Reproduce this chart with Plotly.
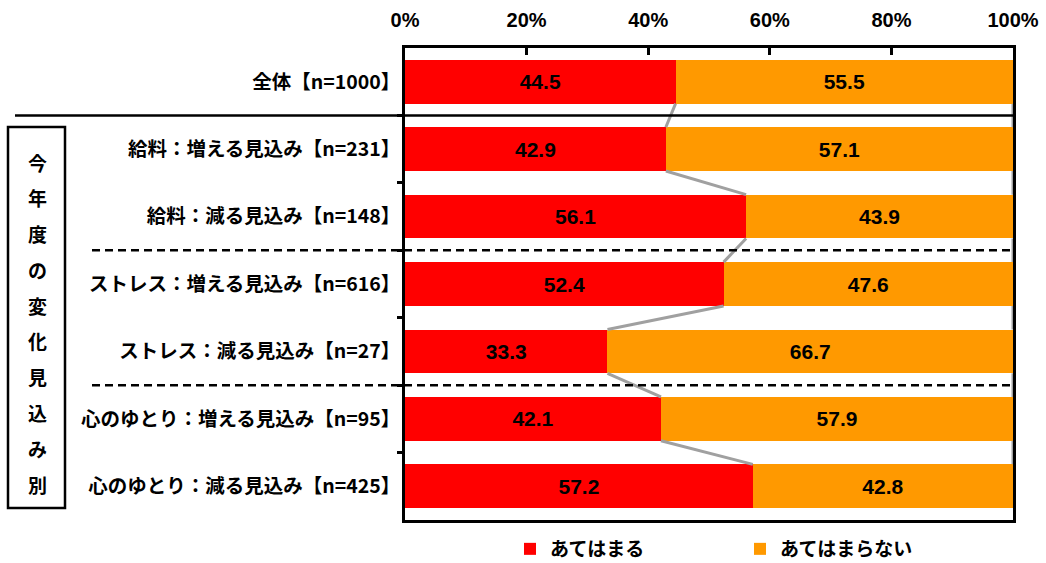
import plotly.graph_objects as go

categories = [
    "全体【n=1000】",
    "給料：増える見込み【n=231】",
    "給料：減る見込み【n=148】",
    "ストレス：増える見込み【n=616】",
    "ストレス：減る見込み【n=27】",
    "心のゆとり：増える見込み【n=95】",
    "心のゆとり：減る見込み【n=425】",
]
applies = [44.5, 42.9, 56.1, 52.4, 33.3, 42.1, 57.2]
not_applies = [55.5, 57.1, 43.9, 47.6, 66.7, 57.9, 42.8]
series_names = ["あてはまる", "あてはまらない"]
x_ticks = [0, 20, 40, 60, 80, 100]
x_tick_labels = ["0%", "20%", "40%", "60%", "80%", "100%"]
side_label = "今年度の変化見込み別"

RED = "#FF0000"
ORANGE = "#FF9900"
GRAY = "#A0A0A0"
CJK = "Noto Sans CJK JP"
NUM = "Liberation Sans"

W, H = 1046, 563
ML, MR, MT, MB = 405, 33, 48, 43
PW, PH = W - ML - MR, H - MT - MB
BAR_W = 0.65
pos = list(range(len(categories)))

def px_to_xpaper(px):
    return (px - ML) / PW

def px_to_ypaper(py):
    return (H - MB - py) / PH

fig = go.Figure()
for vals, name, color in [(applies, series_names[0], RED), (not_applies, series_names[1], ORANGE)]:
    fig.add_trace(go.Bar(
        y=pos, x=vals, name=name, orientation="h", width=BAR_W,
        marker=dict(color=color, line=dict(width=0)),
        text=[f"{v:.1f}" for v in vals], textposition="inside",
        insidetextanchor="middle", textangle=0,
        textfont=dict(family=NUM, size=21, color="black", weight="bold"),
        hoverinfo="skip",
    ))

# series lines (connectors between bars)
h = BAR_W / 2
cx, cy = [], []
for i in range(len(pos) - 1):
    cx += [applies[i], applies[i + 1], None]
    cy += [pos[i] + h, pos[i + 1] - h, None]
    tot_i = applies[i] + not_applies[i]
    tot_n = applies[i + 1] + not_applies[i + 1]
    cx += [tot_i, tot_n, None]
    cy += [pos[i] + h, pos[i + 1] - h, None]
fig.add_trace(go.Scatter(x=cx, y=cy, mode="lines", line=dict(color=GRAY, width=3),
                         showlegend=False, hoverinfo="skip", connectgaps=False))

shapes = []
# solid separator under 全体
shapes.append(dict(type="line", xref="paper", yref="y", x0=px_to_xpaper(15), x1=1,
                   y0=0.5, y1=0.5, line=dict(color="black", width=2.5)))
for yb in [2.5, 4.5]:
    shapes.append(dict(type="line", xref="paper", yref="y", x0=px_to_xpaper(92), x1=1,
                       y0=yb, y1=yb, line=dict(color="black", width=2.5, dash="8px,5px")))
# side box
shapes.append(dict(type="rect", xref="paper", yref="paper",
                   x0=px_to_xpaper(8), x1=px_to_xpaper(65),
                   y0=px_to_ypaper(508), y1=px_to_ypaper(127),
                   line=dict(color="black", width=2.5), fillcolor="rgba(0,0,0,0)"))

annotations = []
n = len(side_label)
for i, ch in enumerate(side_label):
    py = 162 + i * (484 - 162) / (n - 1)
    annotations.append(dict(text=ch, xref="paper", yref="paper", x=px_to_xpaper(37),
                            y=px_to_ypaper(py), showarrow=False, xanchor="center", yanchor="middle",
                            font=dict(family=CJK, size=19, color="black", weight="bold")))

fig.update_layout(
    width=W, height=H,
    margin=dict(l=ML, r=MR, t=MT, b=MB, autoexpand=False),
    paper_bgcolor="white", plot_bgcolor="white",
    barmode="stack",
    shapes=shapes, annotations=annotations,
    xaxis=dict(range=[0, 100], side="top", tickmode="array", tickvals=x_ticks,
               ticktext=x_tick_labels,
               ticks="inside", ticklen=7, tickwidth=2.5, tickcolor="black",
               showline=True, mirror=True, linecolor="black", linewidth=2.5,
               showgrid=False, zeroline=False, fixedrange=True,
               ticklabelstandoff=10,
               tickfont=dict(family=NUM, size=20, color="black", weight="bold")),
    yaxis=dict(range=[len(pos) - 0.5, -0.5], tickmode="array", tickvals=pos, ticktext=categories,
               ticks="", showline=True, mirror=True, linecolor="black", linewidth=2.5,
               showgrid=False, zeroline=False, fixedrange=True,
               ticklabelstandoff=-2,
               minor=dict(tickmode="array", tickvals=[p + 0.5 for p in pos[:-1]],
                          ticks="outside", ticklen=5, tickwidth=2.5, tickcolor="black",
                          showgrid=False),
               tickfont=dict(family=CJK, size=19.5, color="black", weight="bold")),
    legend=dict(orientation="h", xref="container", yref="container",
                x=510 / W, xanchor="left",
                y=(H - 549) / H, yanchor="middle", entrywidth=185,
                traceorder="normal",
                font=dict(family=CJK, size=19, color="black", weight="bold")),
    showlegend=True,
)

fig.write_html("out.html", post_script="document.body.style.margin='0';",
               config={"displayModeBar": False})
